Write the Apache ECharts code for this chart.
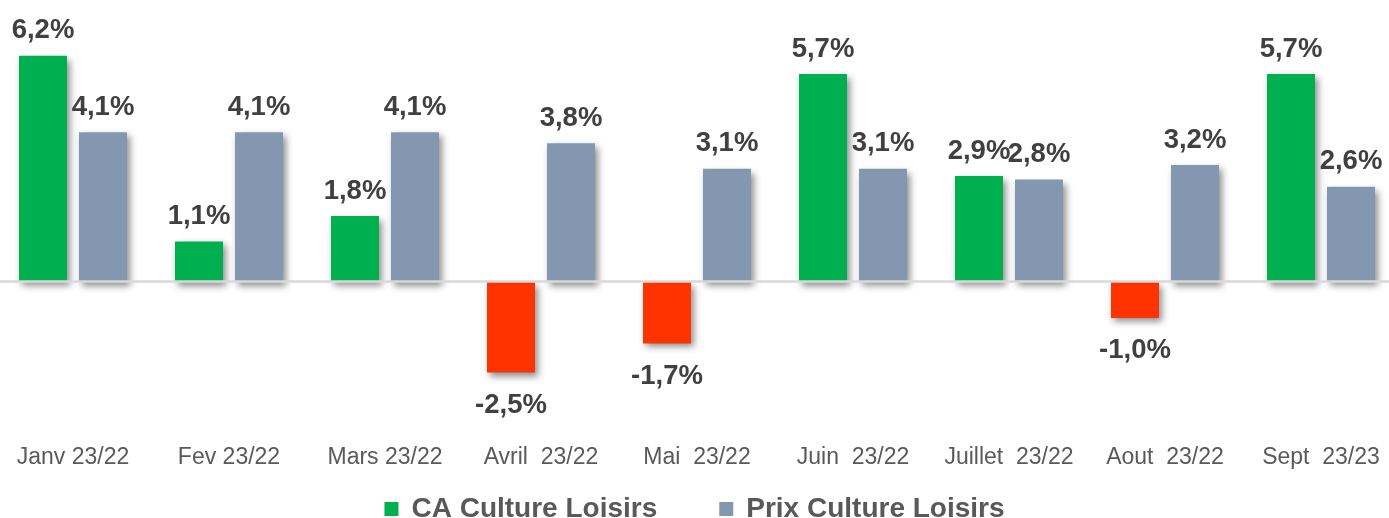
<!DOCTYPE html>
<html>
<head>
<meta charset="utf-8">
<script src="https://cdn.jsdelivr.net/npm/echarts@6/dist/echarts.min.js"></script>
<style>
html,body{margin:0;padding:0;background:#fff;}
#chart{width:1389px;height:518px;}
</style>
</head>
<body>
<div id="chart"></div>
<script>
const categories = ['Janv 23/22', 'Fev 23/22', 'Mars 23/22', 'Avril  23/22', 'Mai  23/22', 'Juin  23/22', 'Juillet  23/22', 'Aout  23/22', 'Sept  23/23'];
const caValues = [6.2, 1.1, 1.8, -2.5, -1.7, 5.7, 2.9, -1.0, 5.7];
const prixValues = [4.1, 4.1, 4.1, 3.8, 3.1, 3.1, 2.8, 3.2, 2.6];
const seriesNames = ['CA Culture Loisirs', 'Prix Culture Loisirs'];

const GREEN = '#00b050', RED = '#ff3300', GREY = '#8497b0';
const FONT = '"Liberation Sans", Arial, sans-serif';
const fmt = v => v.toFixed(1).replace('.', ',') + '%';
const shadow = { shadowColor: 'rgba(0,0,0,0.45)', shadowBlur: 7, shadowOffsetX: 3, shadowOffsetY: 4 };
const labelStyle = { show: true, fontFamily: FONT, fontWeight: 'bold', fontSize: 27.5, color: '#404040' };

const caData = caValues.map(v => v < 0 ? {
  value: v,
  itemStyle: { color: RED },
  label: { position: 'bottom', distance: 19 }
} : { value: v });

const chart = echarts.init(document.getElementById('chart'), null, { renderer: 'canvas' });
chart.setOption({
  animation: false,
  backgroundColor: '#fff',
  grid: { left: 73, width: 1248, top: 26.7, height: 400.4, containLabel: false },
  xAxis: {
    type: 'category',
    data: categories,
    boundaryGap: false,
    axisLine: { show: false },
    axisTick: { show: false },
    axisLabel: { fontFamily: FONT, fontSize: 23, color: '#595959', margin: 19, interval: 0 }
  },
  yAxis: { type: 'value', min: -4, max: 7, show: false, splitLine: { show: false } },
  legend: {
    data: seriesNames,
    top: 495,
    left: 'center',
    padding: 0,
    itemGap: 62,
    itemWidth: 14,
    itemHeight: 14,
    icon: 'rect',
    itemStyle: { shadowBlur: 0, shadowOffsetX: 0, shadowOffsetY: 0, shadowColor: 'transparent' },
    textStyle: { fontFamily: FONT, fontWeight: 'bold', fontSize: 28, color: '#595959', padding: [0, 0, 0, 8] }
  },
  series: [
    {
      name: seriesNames[0],
      type: 'bar',
      data: caData,
      barWidth: 48,
      barGap: '25%',
      itemStyle: Object.assign({ color: GREEN }, shadow),
      label: Object.assign({ position: 'top', distance: 11, formatter: p => fmt(p.value) }, labelStyle)
    },
    {
      name: seriesNames[1],
      type: 'bar',
      data: prixValues,
      barWidth: 48,
      itemStyle: Object.assign({ color: GREY }, shadow),
      label: Object.assign({ position: 'top', distance: 11, formatter: p => fmt(p.value) }, labelStyle),
      markLine: {
        silent: true,
        symbol: 'none',
        label: { show: false },
        lineStyle: { color: '#d9d9d9', width: 2.5, type: 'solid' },
        data: [[{ x: 0, yAxis: 0 }, { x: 1389, yAxis: 0 }]]
      }
    }
  ]
});
</script>
</body>
</html>
